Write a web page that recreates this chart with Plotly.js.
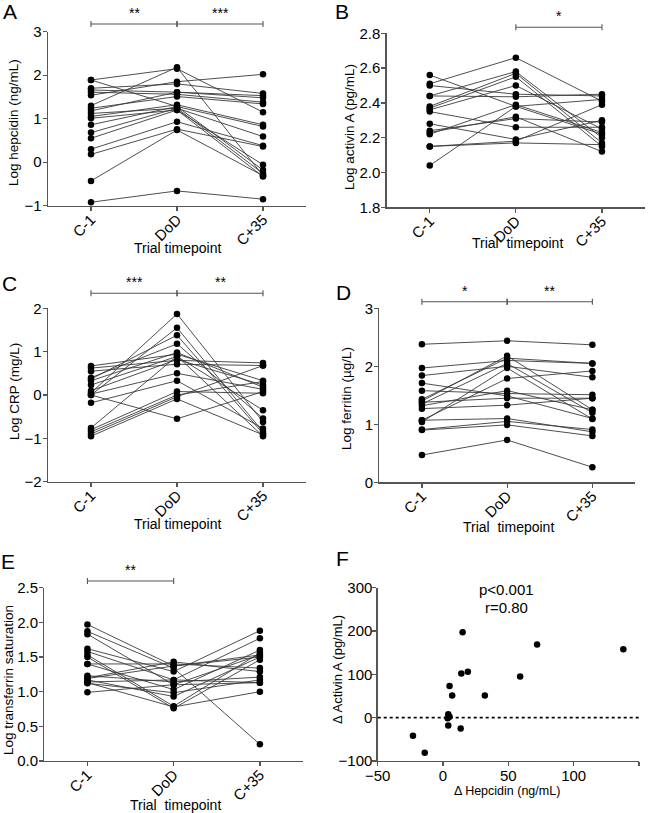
<!DOCTYPE html>
<html><head><meta charset="utf-8">
<script src="https://cdn.plot.ly/plotly-3.0.1.min.js"></script>
<style>html,body{margin:0;padding:0;background:#fff}#chart{width:650px;height:813px}</style>
</head><body><div id="chart"></div>
<script>
// ---------- data ----------
const timepoints = ['C-1', 'DoD', 'C+35'];

const hepcidinC1  = [1.89, 1.89, 1.70, 1.66, 1.61, 1.54, 1.30, 1.24, 1.18, 1.12, 1.05, 1.01, 0.86, 0.68, 0.55, 0.30, 0.18, -0.43, -0.92];
const hepcidinDoD = [2.15, 1.28, 1.80, 1.61, 1.56, 1.85, 2.18, 1.51, 1.61, 1.24, 1.32, 1.20, 1.28, 1.24, 1.20, 0.93, 0.76, 0.74, -0.66];
const hepcidinC35 = [1.15, 0.82, 1.58, 1.53, 1.38, 2.02, -0.31, 1.34, 1.48, 0.59, 0.86, -0.06, -0.18, -0.26, -0.33, 0.38, 0.36, -0.31, -0.85];

const activinC1  = [2.51, 2.56, 2.50, 2.44, 2.44, 2.38, 2.37, 2.36, 2.35, 2.28, 2.24, 2.23, 2.22, 2.15, 2.15, 2.04];
const activinDoD = [2.66, 2.38, 2.45, 2.435, 2.58, 2.57, 2.55, 2.50, 2.26, 2.19, 2.31, 2.32, 2.39, 2.17, 2.18, 2.38];
const activinC35 = [2.41, 2.22, 2.44, 2.45, 2.20, 2.17, 2.15, 2.25, 2.26, 2.30, 2.29, 2.12, 2.23, 2.16, 2.39, 2.42];

const crpC1  = [0.05, 0.00, 0.37, 0.40, 0.67, 0.62, 0.55, 0.33, 0.23, 0.10, 0.02, -0.18, 0.00, -0.76, -0.80, -0.85, -0.90, -0.95];
const crpDoD = [1.87, 1.55, 1.38, 1.18, 0.94, 0.80, 0.71, 0.98, 0.89, 0.82, 0.50, 0.33, -0.55, 0.90, 0.08, 0.00, -0.04, -0.09];
const crpC35 = [-0.62, -0.85, -0.89, -0.54, 0.33, 0.74, 0.68, 0.18, -0.35, 0.23, 0.13, -0.77, 0.08, -0.95, 0.04, 0.31, 0.68, -0.92];

const ferritinC1  = [2.38, 1.97, 1.84, 1.71, 1.58, 1.43, 1.40, 1.38, 1.35, 1.32, 1.27, 1.07, 1.04, 1.07, 0.91, 0.90, 0.47];
const ferritinDoD = [2.44, 2.10, 2.00, 1.49, 1.53, 2.14, 2.18, 1.45, 2.05, 1.58, 1.33, 1.79, 1.97, 1.10, 1.05, 0.99, 0.73];
const ferritinC35 = [2.37, 2.05, 1.81, 1.10, 1.51, 2.05, 1.25, 1.45, 1.20, 1.25, 1.45, 1.92, 1.09, 0.87, 0.91, 0.80, 0.26];

const tsatC1  = [1.97, 1.87, 1.83, 1.62, 1.58, 1.53, 1.50, 1.40, 1.40, 1.23, 1.20, 1.17, 1.14, 1.12, 0.99, 1.13, 1.19];
const tsatDoD = [1.37, 1.34, 1.10, 1.29, 1.17, 0.79, 0.76, 1.40, 1.03, 1.14, 1.43, 0.93, 1.17, 0.985, 1.10, 0.78, 1.37];
const tsatC35 = [1.50, 0.24, 1.53, 1.88, 1.77, 1.56, 1.46, 1.34, 1.60, 1.21, 1.29, 1.50, 1.13, 1.17, 1.13, 1.00, 1.53];

const deltaHepcidin = [-23, -14, 15, 14, 19, 5, 7, 32, 59, 72, 138, 4, 5, 3.5, 4, 13.5];
const deltaActivin  = [-42, -81, 197, 102, 106, 73, 51, 51, 95, 169, 158, 8, 2, -1.5, -18, -25];

// ---------- layout helpers ----------
const W = 650, H = 813;
const px = v => v / W;
const py = v => 1 - v / H;
const FONT = 'Liberation Sans, Arial, Helvetica, sans-serif';
const AX = '#555';

const traces = [];
const shapes = [];
const annotations = [];
const layout = {
  width: W, height: H,
  margin: {l: 0, r: 0, t: 0, b: 0},
  paper_bgcolor: '#fff', plot_bgcolor: '#fff',
  showlegend: false,
  font: {family: FONT, color: '#000', size: 13}
};

function axisBase() {
  return {
    showline: true, linecolor: AX, linewidth: 1.3,
    ticks: 'outside', ticklen: 4, tickwidth: 1.3, tickcolor: AX,
    showgrid: false, zeroline: false, fixedrange: true,
    tickfont: {family: FONT, size: 15, color: '#000'}
  };
}

function addText(text, x, y, size, opts) {
  annotations.push(Object.assign({
    text: text, xref: 'paper', yref: 'paper', x: px(x), y: py(y),
    showarrow: false, xanchor: 'center', yanchor: 'middle',
    font: {family: FONT, size: size, color: '#000'}
  }, opts || {}));
}

// paired panel
function pairedPanel(idx, c1, dod, c35, cfg) {
  const xa = idx === 1 ? 'xaxis' : 'xaxis' + idx;
  const ya = idx === 1 ? 'yaxis' : 'yaxis' + idx;
  const xr = idx === 1 ? 'x' : 'x' + idx;
  const yr = idx === 1 ? 'y' : 'y' + idx;
  for (let i = 0; i < c1.length; i++) {
    traces.push({
      type: 'scatter', mode: 'lines+markers', xaxis: xr, yaxis: yr,
      x: timepoints, y: [c1[i], dod[i], c35[i]],
      line: {color: '#3a3a3a', width: 0.9},
      marker: {color: '#000', size: 6.5},
      hoverinfo: 'skip', cliponaxis: false
    });
  }
  layout[xa] = Object.assign(axisBase(), {
    type: 'category', range: [-0.5, 2.5], anchor: yr,
    domain: [px(cfg.x0), px(cfg.x1)], tickangle: -45, ticklabelstandoff: -6
  });
  layout[ya] = Object.assign(axisBase(), {
    range: cfg.yrange, anchor: xr, tickvals: cfg.ticks, tickformat: cfg.fmt,
    domain: [py(cfg.yb), py(cfg.yt)], ticklabelstandoff: -2
  });
  // brackets
  cfg.brackets.forEach(b => {
    const yb = py(b.y), d = 3 / H;
    shapes.push({type: 'line', xref: xr, yref: 'paper', x0: timepoints[b.from], x1: timepoints[b.to], y0: yb, y1: yb, line: {color: AX, width: 1.1}});
    [b.from, b.to].forEach(k => shapes.push({type: 'line', xref: xr, yref: 'paper', x0: timepoints[k], x1: timepoints[k], y0: yb - d, y1: yb + d, line: {color: AX, width: 1.1}}));
    annotations.push({
      text: b.stars, xref: xr, yref: 'paper', x: (b.from + b.to) / 2, y: py(b.y - 1),
      showarrow: false, xanchor: 'center', yanchor: 'bottom',
      font: {family: FONT, size: 14, color: '#000'}
    });
  });
  addText(cfg.letter, cfg.lx, cfg.ly, 21);
  addText(cfg.ytitle, cfg.ytx, cfg.yty, 13.5, {textangle: -90});
  addText(cfg.xtitle, cfg.xtx, cfg.xty, 14);
}

pairedPanel(1, hepcidinC1, hepcidinDoD, hepcidinC35, {
  x0: 48, x1: 306, yt: 31.7, yb: 205.7, yrange: [-1, 3], ticks: [-1, 0, 1, 2, 3], fmt: 'd',
  brackets: [{from: 0, to: 1, y: 24, stars: '**'}, {from: 1, to: 2, y: 24, stars: '***'}],
  letter: 'A', lx: 10, ly: 11, ytitle: 'Log hepcidin (ng/mL)', ytx: 14, yty: 123,
  xtitle: 'Trial timepoint', xtx: 178, xty: 248
});
pairedPanel(2, activinC1, activinDoD, activinC35, {
  x0: 386.7, x1: 645, yt: 33.3, yb: 207.3, yrange: [1.8, 2.8], ticks: [1.8, 2.0, 2.2, 2.4, 2.6, 2.8], fmt: '.1f',
  brackets: [{from: 1, to: 2, y: 27.3, stars: '*'}],
  letter: 'B', lx: 342, ly: 11, ytitle: 'Log activin A (pg/mL)', ytx: 349, yty: 127,
  xtitle: 'Trial  timepoint', xtx: 517, xty: 243
});
pairedPanel(3, crpC1, crpDoD, crpC35, {
  x0: 48, x1: 306, yt: 308.3, yb: 481.7, yrange: [-2, 2], ticks: [-2, -1, 0, 1, 2], fmt: 'd',
  brackets: [{from: 0, to: 1, y: 293.3, stars: '***'}, {from: 1, to: 2, y: 293.3, stars: '**'}],
  letter: 'C', lx: 9, ly: 284, ytitle: 'Log CRP (mg/L)', ytx: 14, yty: 392,
  xtitle: 'Trial timepoint', xtx: 178, xty: 524
});
pairedPanel(4, ferritinC1, ferritinDoD, ferritinC35, {
  x0: 379.3, x1: 635, yt: 308.3, yb: 482.3, yrange: [0, 3], ticks: [0, 1, 2, 3], fmt: 'd',
  brackets: [{from: 0, to: 1, y: 301.7, stars: '*'}, {from: 1, to: 2, y: 301.7, stars: '**'}],
  letter: 'D', lx: 343, ly: 292, ytitle: 'Log ferritin (\u00b5g/L)', ytx: 346, yty: 398,
  xtitle: 'Trial  timepoint', xtx: 508, xty: 527
});
pairedPanel(5, tsatC1, tsatDoD, tsatC35, {
  x0: 44.3, x1: 303, yt: 587.7, yb: 761, yrange: [0, 2.5], ticks: [0, 0.5, 1, 1.5, 2, 2.5], fmt: '.1f',
  brackets: [{from: 0, to: 1, y: 581, stars: '**'}],
  letter: 'E', lx: 8, ly: 561, ytitle: 'Log transferrin saturation', ytx: 8, yty: 680,
  xtitle: 'Trial  timepoint', xtx: 175, xty: 805
});

// panel F scatter
traces.push({
  type: 'scatter', mode: 'markers', xaxis: 'x6', yaxis: 'y6',
  x: deltaHepcidin, y: deltaActivin,
  marker: {color: '#000', size: 6.5}, hoverinfo: 'skip', cliponaxis: false
});
layout.xaxis6 = Object.assign(axisBase(), {
  range: [-50, 150], tickvals: [-50, 0, 50, 100, 150], anchor: 'y6',
  domain: [px(377.7), px(639)], ticklabelstandoff: -3
});
layout.yaxis6 = Object.assign(axisBase(), {
  range: [-100, 300], tickvals: [-100, 0, 100, 200, 300], anchor: 'x6',
  domain: [py(761), py(587.7)], ticklabelstandoff: -3
});
shapes.push({type: 'line', xref: 'x6', yref: 'y6', x0: -50, x1: 150, y0: 0, y1: 0,
  line: {color: '#000', width: 1.6, dash: 'dot'}});
addText('F', 342, 558, 21);
addText('p<0.001', 506.7, 589.5, 15);
addText('r=0.80', 506.7, 607, 15);
addText('\u0394 Activin A (pg/mL)', 337, 670, 13, {textangle: -90});
addText('\u0394 Hepcidin (ng/mL)', 507, 791, 12.5);

layout.shapes = shapes;
layout.annotations = annotations;

Plotly.newPlot('chart', traces, layout, {staticPlot: true, displayModeBar: false});
</script>
</body></html>
